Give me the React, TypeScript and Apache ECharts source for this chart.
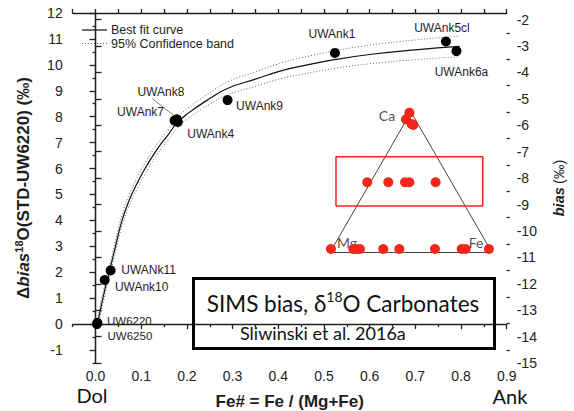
import React, { useEffect, useRef } from 'react';
import * as echarts from 'echarts';

// ---- main panel data ----
const sampleNames = ['UW6220', 'UW6250', 'UWAnk10', 'UWANk11', 'UWAnk7', 'UWAnk8', 'UWAnk4', 'UWAnk9', 'UWAnk1', 'UWAnk5cl', 'UWAnk6a'];
const sampleFe = [0.004, 0.003, 0.020, 0.033, 0.173, 0.178, 0.180, 0.289, 0.524, 0.767, 0.790];
const sampleBias = [0.05, 0.0, 1.70, 2.07, 7.85, 7.90, 7.80, 8.64, 10.46, 10.90, 10.53];

const fitFe = [0.004, 0.02, 0.032, 0.045, 0.058, 0.073, 0.091, 0.109, 0.135, 0.16, 0.178, 0.2, 0.25, 0.29, 0.35, 0.406, 0.45, 0.526, 0.6, 0.7, 0.797];
const fitBias = [0.0, 1.3, 2.15, 3.1, 4.0, 4.75, 5.43, 6.02, 6.75, 7.33, 7.75, 8.1, 8.7, 9.1, 9.45, 9.77, 9.95, 10.21, 10.4, 10.58, 10.71];
const bandUpper = [0.2, 1.52, 2.37, 3.32, 4.22, 4.97, 5.65, 6.24, 6.95, 7.53, 7.95, 8.3, 8.92, 9.35, 9.73, 10.07, 10.27, 10.55, 10.76, 10.96, 11.11];
const bandLower = [-0.2, 1.08, 1.93, 2.88, 3.78, 4.53, 5.21, 5.8, 6.55, 7.13, 7.55, 7.9, 8.48, 8.85, 9.17, 9.47, 9.63, 9.87, 10.04, 10.2, 10.31];

const leaderFrom = [0.124, 8.70];
const leaderTo = [0.171, 8.05];

const legendLabels = ['Best fit curve', '95% Confidence band'];

// ---- axis ticks ----
const xMajorTicks = [0, 0.1, 0.2, 0.3, 0.4, 0.5, 0.6, 0.7, 0.8, 0.9];
const xMinorTicks = [-0.05, 0.05, 0.15, 0.25, 0.35, 0.45, 0.55, 0.65, 0.75, 0.85];
const leftMajorTicks = [-1, 0, 1, 2, 3, 4, 5, 6, 7, 8, 9, 10, 11, 12];
const leftMinorTicks = [-1.5, -0.5, 0.5, 1.5, 2.5, 3.5, 4.5, 5.5, 6.5, 7.5, 8.5, 9.5, 10.5, 11.5];
const rightMajorTicks = [-15, -14, -13, -12, -11, -10, -9, -8, -7, -6, -5, -4, -3, -2];
const rightMinorTicks = [-14.5, -13.5, -12.5, -11.5, -10.5, -9.5, -8.5, -7.5, -6.5, -5.5, -4.5, -3.5, -2.5];

// ---- ternary inset data (normalised triangle coordinates) ----
const triVertexNames = ['Mg', 'Fe', 'Ca'];
const triVertexX = [0, 1, 0.5];
const triVertexY = [0, 0, 1];
const redDotX = [0.49, 0.469, 0.504, 0.514, 0.23, 0.36, 0.463, 0.49, 0.652, 0.006, 0.144, 0.165, 0.185, 0.329, 0.428, 0.648, 0.813, 0.838, 0.981];
const redDotY = [0.995, 0.948, 0.915, 0.908, 0.5, 0.5, 0.5, 0.5, 0.5, 0.025, 0.025, 0.025, 0.025, 0.025, 0.025, 0.025, 0.025, 0.025, 0.025];
const highlightBoxX = [0.037, 0.943];
const highlightBoxY = [0.331, 0.682];

const FONT = 'Liberation Sans';
const CAL = 'Lato';
const RED = '#f3261b';
const TXT = '#1e1e1e';

const labelOffsets: Record<string, [number, number]> = {
  UW6220: [32, -1.5], UW6250: [33, 11.5], UWAnk10: [37, 7], UWANk11: [38, 0],
  UWAnk7: [-34, -9], UWAnk8: [-16, -27], UWAnk4: [33, 12], UWAnk9: [32, 6],
  UWAnk1: [-3, -19], UWAnk5cl: [-4, -14], UWAnk6a: [5, 21],
};
const labelSizes: Record<string, number> = { UW6220: 11.5, UW6250: 11.5 };
const vertexOffsets: Record<string, [number, number]> = { Mg: [17, -10], Fe: [-16, -10], Ca: [-24, 3] };

const axisLineStyle = { color: '#222', width: 1.3 };

export default function App() {
  const ref = useRef<HTMLDivElement>(null);
  useEffect(() => {
    document.body.style.margin = '0';
    const chart = echarts.init(ref.current!, null, { renderer: 'svg' });
    const hidden = { show: false };
    const tickLabel = { fontFamily: FONT, fontSize: 14, color: '#222' };
    const option: any = {
      animation: false,
      backgroundColor: '#fff',
      grid: [
        { left: 72.7, right: 67.3, top: 13, bottom: 48, outerBoundsMode: 'none' },
        { left: 330, top: 112, width: 162, height: 140.5, outerBoundsMode: 'none' },
      ],
      xAxis: [
        {
          type: 'value', gridIndex: 0, min: -0.05, max: 0.9, position: 'bottom',
          axisLine: { show: true, lineStyle: axisLineStyle },
          axisTick: { show: true, customValues: xMajorTicks, length: 5, lineStyle: axisLineStyle },
          axisLabel: { ...tickLabel, customValues: xMajorTicks, formatter: (v: number) => v.toFixed(1), margin: 6 },
          splitLine: hidden,
          name: 'Fe# = Fe / (Mg+Fe)', nameLocation: 'middle', nameGap: 30,
          nameTextStyle: { fontFamily: FONT, fontSize: 17, fontWeight: 'bold', color: TXT },
        },
        {
          type: 'value', gridIndex: 0, min: -0.05, max: 0.9, position: 'bottom',
          axisLine: hidden, axisLabel: hidden, splitLine: hidden,
          axisTick: { show: true, customValues: xMinorTicks, length: 3, lineStyle: axisLineStyle },
        },
        {
          type: 'value', gridIndex: 0, min: -0.05, max: 0.9, position: 'top',
          axisLine: { show: true, lineStyle: axisLineStyle }, axisLabel: hidden, splitLine: hidden,
          axisTick: { show: true, customValues: [...xMajorTicks, ...xMinorTicks], length: 4, lineStyle: axisLineStyle },
        },
        { type: 'value', gridIndex: 1, min: 0, max: 1, show: false },
      ],
      yAxis: [
        {
          type: 'value', gridIndex: 0, min: -1.5, max: 12, position: 'left',
          axisLine: { show: true, lineStyle: axisLineStyle },
          axisTick: { show: true, customValues: leftMajorTicks, length: 6, lineStyle: axisLineStyle },
          axisLabel: { ...tickLabel, customValues: leftMajorTicks, margin: 10 },
          splitLine: hidden,
          name: '{b|Δ}{bi|bias}{sup|18}{b|O(STD-UW6220) (‰)}', nameLocation: 'middle', nameGap: 39, nameRotate: 90,
          nameTextStyle: {
            rich: {
              b: { fontFamily: FONT, fontSize: 17, fontWeight: 'bold', color: TXT, lineHeight: 20 },
              bi: { fontFamily: FONT, fontSize: 17, fontWeight: 'bold', fontStyle: 'italic', color: TXT, lineHeight: 20 },
              sup: { fontFamily: FONT, fontSize: 11, fontWeight: 'bold', color: TXT, verticalAlign: 'top', lineHeight: 11 },
            },
          },
        },
        {
          type: 'value', gridIndex: 0, min: -1.5, max: 12, position: 'left',
          axisLine: hidden, axisLabel: hidden, splitLine: hidden,
          axisTick: { show: true, customValues: leftMinorTicks, length: 3, lineStyle: axisLineStyle },
        },
        {
          type: 'value', gridIndex: 0, min: -15, max: -1.75, position: 'right',
          axisLine: { show: true, lineStyle: axisLineStyle },
          axisTick: { show: true, customValues: rightMajorTicks, length: 6, lineStyle: axisLineStyle },
          axisLabel: { ...tickLabel, customValues: rightMajorTicks, margin: 10 },
          splitLine: hidden,
          name: '{bi|bias} {r|(‰)}', nameLocation: 'middle', nameGap: 45, nameRotate: 90,
          nameTextStyle: {
            rich: {
              bi: { fontFamily: FONT, fontSize: 14.5, fontWeight: 'bold', fontStyle: 'italic', color: TXT },
              r: { fontFamily: FONT, fontSize: 14.5, color: TXT },
            },
          },
        },
        {
          type: 'value', gridIndex: 0, min: -15, max: -1.75, position: 'right',
          axisLine: hidden, axisLabel: hidden, splitLine: hidden,
          axisTick: { show: true, customValues: rightMinorTicks, length: 3, lineStyle: axisLineStyle },
        },
        { type: 'value', gridIndex: 1, min: 0, max: 1, show: false },
      ],
      series: [
        {
          name: legendLabels[1], type: 'line', xAxisIndex: 0, yAxisIndex: 0,
          data: fitFe.map((x, i) => [x, bandUpper[i]]), smooth: true, symbol: 'none',
          lineStyle: { color: '#666', width: 1, type: [1, 2] },
        },
        {
          name: legendLabels[1], type: 'line', xAxisIndex: 0, yAxisIndex: 0,
          data: fitFe.map((x, i) => [x, bandLower[i]]), smooth: true, symbol: 'none',
          lineStyle: { color: '#666', width: 1, type: [1, 2] },
        },
        {
          name: legendLabels[0], type: 'line', xAxisIndex: 0, yAxisIndex: 0,
          data: fitFe.map((x, i) => [x, fitBias[i]]), smooth: true, symbol: 'none',
          lineStyle: { color: '#111', width: 1.2 },
        },
        {
          name: 'samples', type: 'scatter', xAxisIndex: 0, yAxisIndex: 0, symbolSize: 10, z: 5,
          itemStyle: { color: '#000', opacity: 1 },
          data: sampleNames.map((n, i) => ({
            name: n, value: [sampleFe[i], sampleBias[i]],
            label: {
              show: true, position: 'inside', offset: labelOffsets[n], formatter: n,
              fontFamily: FONT, fontSize: labelSizes[n] || 12, lineHeight: labelSizes[n] || 12, color: TXT,
            },
          })),
          markLine: {
            silent: true, symbol: ['none', 'none'], label: { show: false },
            lineStyle: { color: '#555', width: 0.8, type: 'solid' },
            data: [[{ coord: leaderFrom }, { coord: leaderTo }]],
          },
        },
        {
          name: 'triangle', type: 'line', xAxisIndex: 3, yAxisIndex: 4, symbol: 'none',
          lineStyle: { color: '#444', width: 1 },
          data: [0, 1, 2, 0].map((i) => [triVertexX[i], triVertexY[i]]),
        },
        {
          name: 'vertices', type: 'scatter', xAxisIndex: 3, yAxisIndex: 4, symbolSize: 1,
          itemStyle: { color: 'transparent' },
          data: triVertexNames.map((n, i) => ({
            name: n, value: [triVertexX[i], triVertexY[i]],
            label: { show: true, position: 'inside', offset: vertexOffsets[n], formatter: n, fontFamily: CAL, fontSize: 14, color: TXT },
          })),
        },
        {
          name: 'box', type: 'line', xAxisIndex: 3, yAxisIndex: 4, symbol: 'none',
          lineStyle: { color: RED, width: 1.5 },
          data: [[0, 0], [1, 0], [1, 1], [0, 1], [0, 0]].map(([a, b]) => [highlightBoxX[a], highlightBoxY[b]]),
        },
        {
          name: 'compositions', type: 'scatter', xAxisIndex: 3, yAxisIndex: 4, symbolSize: 10, z: 6,
          itemStyle: { color: RED, opacity: 1 },
          data: redDotX.map((x, i) => [x, redDotY[i]]),
        },
      ],
      graphic: [
        // legend
        { type: 'line', shape: { x1: 82, y1: 30, x2: 107, y2: 30 }, style: { stroke: '#111', lineWidth: 1.2 } },
        { type: 'line', shape: { x1: 82, y1: 43.5, x2: 107, y2: 43.5 }, style: { stroke: '#666', lineWidth: 1, lineDash: [1, 2] } },
        { type: 'text', x: 111, y: 30, style: { text: legendLabels[0], fontFamily: FONT, fontSize: 12.5, fill: TXT, verticalAlign: 'middle' } },
        { type: 'text', x: 111, y: 43.5, style: { text: legendLabels[1], fontFamily: FONT, fontSize: 12.5, fill: TXT, verticalAlign: 'middle' } },
        // title box
        { type: 'rect', shape: { x: 193.5, y: 278.5, width: 301, height: 70 }, style: { fill: 'none', stroke: '#000', lineWidth: 3 }, z: 10 },
        {
          type: 'text', x: 343, y: 303, z: 10,
          style: {
            text: '{t|SIMS bias, δ}{s|18}{t|O Carbonates}', align: 'center', verticalAlign: 'middle',
            rich: {
              t: { fontFamily: CAL, fontSize: 22.5, fill: '#111', lineHeight: 27 },
              s: { fontFamily: CAL, fontSize: 14, fill: '#111', verticalAlign: 'top', lineHeight: 13 },
            },
          },
        },
        { type: 'text', x: 240, y: 333, z: 10, style: { text: 'Sliwinski et al. 2016a', fontFamily: CAL, fontSize: 18, fill: '#111', verticalAlign: 'middle' } },
        { type: 'text', x: 92, y: 395, z: 10, style: { text: 'Dol', fontFamily: CAL, fontSize: 20, fill: '#111', align: 'center', verticalAlign: 'middle' } },
        { type: 'text', x: 510, y: 396, z: 10, style: { text: 'Ank', fontFamily: CAL, fontSize: 20, fill: '#111', align: 'center', verticalAlign: 'middle' } },
      ],
    };
    chart.setOption(option);
    return () => chart.dispose();
  }, []);
  return <div ref={ref} style={{ width: 574, height: 411 }} />;
}
